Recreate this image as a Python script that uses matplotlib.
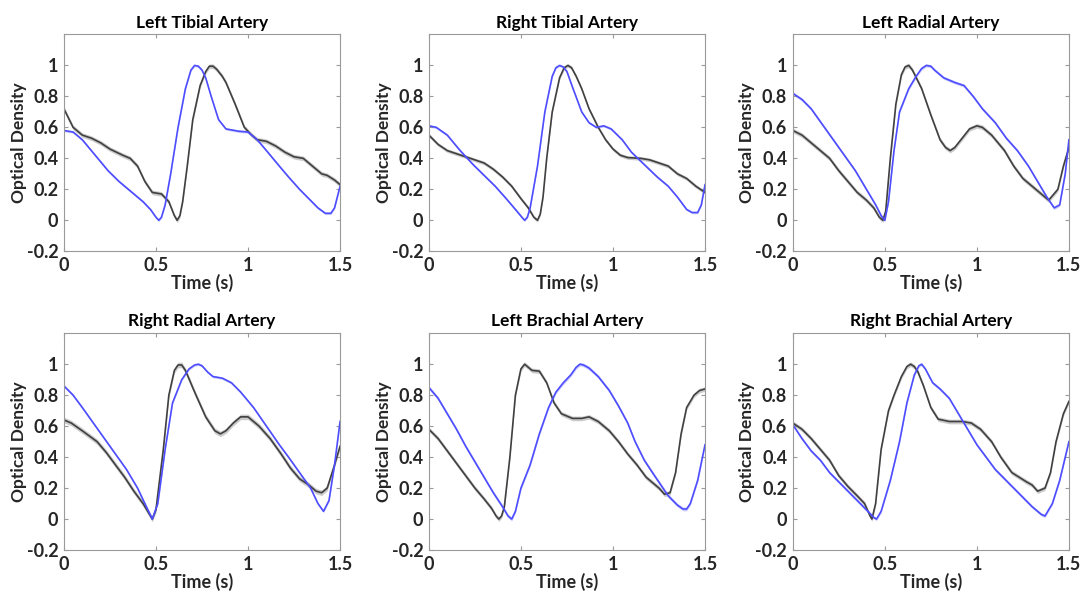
import numpy as np
import matplotlib
matplotlib.use('Agg')
import matplotlib.pyplot as plt

plt.rcParams['font.family'] = ['Lato', 'DejaVu Sans']
plt.rcParams['font.weight'] = 'bold'

titles = ['Left Tibial Artery', 'Right Tibial Artery', 'Left Radial Artery',
          'Right Radial Artery', 'Left Brachial Artery', 'Right Brachial Artery']

# Left tibial
lt_black_t = [0, 0.05, 0.1, 0.15, 0.2, 0.25, 0.32, 0.36, 0.4, 0.44, 0.48, 0.53, 0.57, 0.6, 0.615, 0.63, 0.645, 0.67, 0.7, 0.74, 0.77, 0.79, 0.81, 0.83, 0.86, 0.88, 0.93, 0.98, 1.02, 1.05, 1.1, 1.15, 1.2, 1.25, 1.3, 1.35, 1.4, 1.43, 1.47, 1.5]
lt_black_y = [0.72, 0.6, 0.55, 0.53, 0.5, 0.46, 0.42, 0.4, 0.35, 0.25, 0.18, 0.17, 0.12, 0.03, 0.0, 0.03, 0.12, 0.35, 0.65, 0.87, 0.96, 0.995, 0.995, 0.975, 0.93, 0.89, 0.75, 0.6, 0.55, 0.52, 0.51, 0.48, 0.44, 0.41, 0.4, 0.35, 0.3, 0.29, 0.26, 0.23]
lt_blue_t = [0, 0.05, 0.1, 0.17, 0.24, 0.3, 0.36, 0.43, 0.47, 0.5, 0.515, 0.53, 0.55, 0.58, 0.62, 0.66, 0.69, 0.71, 0.73, 0.75, 0.77, 0.8, 0.84, 0.88, 0.95, 1.0, 1.05, 1.1, 1.17, 1.22, 1.28, 1.33, 1.38, 1.42, 1.45, 1.47, 1.5]
lt_blue_y = [0.58, 0.57, 0.52, 0.42, 0.32, 0.25, 0.19, 0.12, 0.07, 0.02, 0.0, 0.02, 0.1, 0.3, 0.6, 0.85, 0.97, 1.0, 0.995, 0.97, 0.92, 0.8, 0.65, 0.59, 0.575, 0.57, 0.52, 0.45, 0.35, 0.28, 0.2, 0.14, 0.08, 0.045, 0.045, 0.08, 0.22]

# Right tibial
rt_black_t = [0, 0.05, 0.1, 0.15, 0.2, 0.25, 0.3, 0.35, 0.4, 0.45, 0.5, 0.54, 0.57, 0.59, 0.605, 0.62, 0.64, 0.67, 0.71, 0.735, 0.755, 0.775, 0.8, 0.83, 0.87, 0.92, 0.96, 1.0, 1.04, 1.08, 1.15, 1.2, 1.25, 1.3, 1.35, 1.4, 1.45, 1.5]
rt_black_y = [0.55, 0.49, 0.45, 0.43, 0.41, 0.39, 0.37, 0.33, 0.28, 0.22, 0.14, 0.08, 0.02, 0.0, 0.04, 0.15, 0.4, 0.7, 0.92, 0.985, 1.0, 0.985, 0.93, 0.85, 0.72, 0.6, 0.52, 0.46, 0.42, 0.405, 0.4, 0.39, 0.37, 0.35, 0.3, 0.27, 0.22, 0.18]
rt_blue_t = [0, 0.04, 0.1, 0.17, 0.24, 0.3, 0.36, 0.42, 0.47, 0.505, 0.52, 0.535, 0.55, 0.59, 0.63, 0.67, 0.69, 0.71, 0.73, 0.75, 0.78, 0.83, 0.87, 0.91, 0.95, 0.99, 1.05, 1.1, 1.17, 1.24, 1.3, 1.35, 1.4, 1.43, 1.46, 1.48, 1.5]
rt_blue_y = [0.61, 0.6, 0.55, 0.45, 0.36, 0.29, 0.22, 0.14, 0.07, 0.02, 0.0, 0.02, 0.08, 0.35, 0.7, 0.93, 0.985, 1.0, 0.99, 0.96, 0.86, 0.7, 0.63, 0.6, 0.61, 0.59, 0.52, 0.44, 0.36, 0.28, 0.22, 0.15, 0.07, 0.05, 0.05, 0.1, 0.23]

# Left radial
lr_black_t = [0, 0.05, 0.1, 0.15, 0.2, 0.25, 0.3, 0.35, 0.4, 0.44, 0.47, 0.49, 0.505, 0.53, 0.56, 0.59, 0.61, 0.63, 0.65, 0.7, 0.75, 0.8, 0.83, 0.855, 0.88, 0.92, 0.96, 1.0, 1.03, 1.08, 1.15, 1.2, 1.25, 1.3, 1.35, 1.39, 1.44, 1.47, 1.5]
lr_black_y = [0.58, 0.55, 0.5, 0.45, 0.4, 0.32, 0.25, 0.18, 0.13, 0.08, 0.02, 0.0, 0.06, 0.4, 0.75, 0.94, 0.99, 1.0, 0.97, 0.85, 0.68, 0.52, 0.47, 0.45, 0.47, 0.53, 0.59, 0.61, 0.6, 0.55, 0.45, 0.35, 0.27, 0.22, 0.17, 0.13, 0.2, 0.35, 0.47]
lr_blue_t = [0, 0.05, 0.1, 0.16, 0.22, 0.28, 0.34, 0.4, 0.45, 0.48, 0.5, 0.52, 0.55, 0.58, 0.63, 0.67, 0.7, 0.725, 0.75, 0.77, 0.82, 0.88, 0.93, 0.98, 1.03, 1.1, 1.16, 1.22, 1.28, 1.33, 1.38, 1.42, 1.45, 1.48, 1.5]
lr_blue_y = [0.82, 0.78, 0.72, 0.62, 0.52, 0.42, 0.32, 0.2, 0.1, 0.03, 0.0, 0.12, 0.45, 0.7, 0.85, 0.93, 0.98, 1.0, 0.995, 0.97, 0.92, 0.89, 0.87, 0.8, 0.72, 0.63, 0.53, 0.45, 0.35, 0.25, 0.15, 0.08, 0.1, 0.3, 0.52]

# Right radial
rr_black_t = [0, 0.04, 0.1, 0.18, 0.23, 0.28, 0.33, 0.38, 0.43, 0.46, 0.48, 0.5, 0.54, 0.57, 0.6, 0.62, 0.64, 0.66, 0.71, 0.77, 0.82, 0.85, 0.88, 0.92, 0.96, 1.0, 1.06, 1.12, 1.18, 1.23, 1.28, 1.33, 1.37, 1.4, 1.43, 1.47, 1.5]
rr_black_y = [0.64, 0.62, 0.57, 0.5, 0.43, 0.35, 0.27, 0.18, 0.1, 0.04, 0.0, 0.06, 0.45, 0.8, 0.96, 0.995, 0.995, 0.96, 0.82, 0.66, 0.57, 0.55, 0.57, 0.62, 0.66, 0.66, 0.6, 0.52, 0.42, 0.33, 0.26, 0.22, 0.18, 0.17, 0.2, 0.35, 0.47]
rr_blue_t = [0, 0.05, 0.1, 0.16, 0.22, 0.28, 0.34, 0.4, 0.44, 0.48, 0.51, 0.55, 0.59, 0.64, 0.68, 0.71, 0.73, 0.75, 0.78, 0.81, 0.86, 0.91, 0.96, 1.03, 1.1, 1.17, 1.22, 1.28, 1.34, 1.38, 1.41, 1.44, 1.47, 1.5]
rr_blue_y = [0.86, 0.8, 0.72, 0.62, 0.52, 0.42, 0.32, 0.2, 0.1, 0.0, 0.1, 0.45, 0.75, 0.9, 0.97, 0.995, 1.0, 0.99, 0.95, 0.92, 0.91, 0.88, 0.82, 0.72, 0.6, 0.48, 0.4, 0.3, 0.2, 0.1, 0.05, 0.12, 0.35, 0.63]

# Left brachial
lb_black_t = [0, 0.05, 0.1, 0.15, 0.2, 0.25, 0.3, 0.34, 0.365, 0.38, 0.395, 0.41, 0.44, 0.47, 0.5, 0.52, 0.54, 0.56, 0.6, 0.64, 0.68, 0.72, 0.78, 0.83, 0.87, 0.92, 0.98, 1.03, 1.08, 1.13, 1.18, 1.22, 1.25, 1.28, 1.31, 1.34, 1.37, 1.4, 1.44, 1.47, 1.5]
lb_black_y = [0.58, 0.52, 0.44, 0.36, 0.28, 0.2, 0.13, 0.07, 0.02, 0.0, 0.02, 0.08, 0.4, 0.8, 0.97, 1.0, 0.98, 0.96, 0.955, 0.88, 0.75, 0.68, 0.65, 0.65, 0.66, 0.63, 0.57, 0.5, 0.42, 0.35, 0.27, 0.23, 0.2, 0.16, 0.17, 0.3, 0.55, 0.72, 0.8, 0.83, 0.84]
lb_blue_t = [0, 0.05, 0.1, 0.15, 0.2, 0.25, 0.3, 0.35, 0.4, 0.43, 0.45, 0.47, 0.5, 0.55, 0.6, 0.65, 0.69, 0.73, 0.77, 0.8, 0.82, 0.84, 0.87, 0.92, 0.98, 1.03, 1.08, 1.12, 1.17, 1.22, 1.26, 1.3, 1.35, 1.38, 1.4, 1.42, 1.46, 1.5]
lb_blue_y = [0.85, 0.78, 0.68, 0.58, 0.47, 0.37, 0.27, 0.17, 0.08, 0.02, 0.0, 0.05, 0.2, 0.35, 0.55, 0.72, 0.82, 0.88, 0.93, 0.98, 1.0, 0.995, 0.975, 0.92, 0.83, 0.73, 0.62, 0.5, 0.38, 0.29, 0.22, 0.15, 0.09, 0.065, 0.065, 0.1, 0.25, 0.48]

# Right brachial
rb_black_t = [0, 0.05, 0.1, 0.15, 0.2, 0.25, 0.3, 0.35, 0.39, 0.42, 0.43, 0.45, 0.48, 0.52, 0.55, 0.59, 0.62, 0.64, 0.66, 0.68, 0.71, 0.75, 0.79, 0.85, 0.92, 0.97, 1.02, 1.08, 1.13, 1.19, 1.23, 1.27, 1.3, 1.33, 1.37, 1.4, 1.43, 1.47, 1.5]
rb_black_y = [0.62, 0.58, 0.52, 0.45, 0.38, 0.28, 0.21, 0.15, 0.1, 0.02, 0.0, 0.1, 0.45, 0.7, 0.8, 0.92, 0.985, 1.0, 0.985, 0.95, 0.86, 0.72, 0.645, 0.63, 0.63, 0.62, 0.58, 0.5, 0.4, 0.3, 0.27, 0.24, 0.22, 0.18, 0.2, 0.3, 0.5, 0.68, 0.76]
rb_blue_t = [0, 0.05, 0.1, 0.15, 0.2, 0.25, 0.3, 0.35, 0.4, 0.44, 0.455, 0.48, 0.53, 0.58, 0.62, 0.66, 0.685, 0.7, 0.72, 0.76, 0.8, 0.85, 0.9, 0.95, 1.0, 1.05, 1.1, 1.15, 1.2, 1.25, 1.3, 1.35, 1.37, 1.41, 1.45, 1.5]
rb_blue_y = [0.61, 0.52, 0.44, 0.38, 0.3, 0.24, 0.18, 0.12, 0.06, 0.01, 0.0, 0.05, 0.25, 0.5, 0.75, 0.93, 0.99, 1.0, 0.97, 0.88, 0.84, 0.78, 0.68, 0.58, 0.48, 0.4, 0.32, 0.26, 0.2, 0.14, 0.08, 0.03, 0.02, 0.1, 0.25, 0.5]

black_series = [(lt_black_t, lt_black_y), (rt_black_t, rt_black_y), (lr_black_t, lr_black_y),
                (rr_black_t, rr_black_y), (lb_black_t, lb_black_y), (rb_black_t, rb_black_y)]
blue_series = [(lt_blue_t, lt_blue_y), (rt_blue_t, rt_blue_y), (lr_blue_t, lr_blue_y),
               (rr_blue_t, rr_blue_y), (lb_blue_t, lb_blue_y), (rb_blue_t, rb_blue_y)]

# spread of the shaded band around each mean trace
black_spread = [0.015, 0.012, 0.015, 0.018, 0.015, 0.015]
blue_spread = [0.008, 0.008, 0.01, 0.008, 0.012, 0.01]

fig = plt.figure(figsize=(10.83, 5.94), dpi=100)
lefts = [0.059, 0.396, 0.732]
bottoms = [0.577, 0.074]
w, h = 0.255, 0.365

textc = '#262626'
for i in range(6):
    ax = fig.add_axes([lefts[i % 3], bottoms[i // 3], w, h])
    tb, yb = np.array(black_series[i][0]), np.array(black_series[i][1])
    tu, yu = np.array(blue_series[i][0]), np.array(blue_series[i][1])

    ax.fill_between(tb, yb - black_spread[i], yb + black_spread[i], color='#999999', alpha=0.5, lw=0)
    ax.fill_between(tu, yu - blue_spread[i], yu + blue_spread[i], color='#9999ff', alpha=0.5, lw=0)
    ax.plot(tb, yb, color='#404040', lw=1.2)
    ax.plot(tu, yu, color='#4d4dff', lw=1.2)

    ax.set_xlim(0, 1.5)
    ax.set_ylim(-0.2, 1.2)
    ax.set_xticks([0, 0.5, 1, 1.5])
    ax.set_xticklabels(['0', '0.5', '1', '1.5'])
    ax.set_yticks([-0.2, 0, 0.2, 0.4, 0.6, 0.8, 1])
    ax.set_yticklabels(['-0.2', '0', '0.2', '0.4', '0.6', '0.8', '1'])
    ax.tick_params(direction='in', length=3, top=True, right=True, colors='#9a9a9a',
                   labelcolor=textc, labelsize=13, pad=4)
    for s in ax.spines.values():
        s.set_color('#9a9a9a')
        s.set_linewidth(0.8)
    ax.set_xlabel('Time (s)', fontsize=13, fontweight='bold', color=textc, labelpad=0)
    ax.set_ylabel('Optical Density', fontsize=12.5, fontweight='bold', color=textc, labelpad=0)
    ax.set_title(titles[i], fontsize=12.5, fontweight='bold', color='black', pad=5)

fig.savefig('out.png', dpi=100)
